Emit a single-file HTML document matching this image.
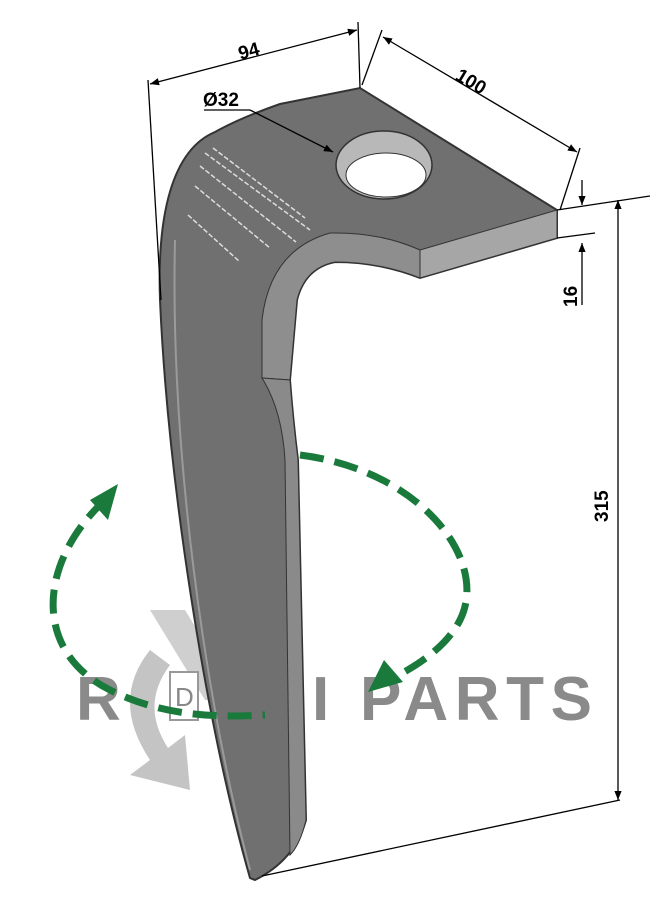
<!DOCTYPE html>
<html><head><meta charset="utf-8"><style>
html,body{margin:0;padding:0;background:#fff;}
svg{display:block;}
text{font-family:"Liberation Sans",sans-serif;}
</style></head><body>
<svg width="669" height="924" viewBox="0 0 669 924" xmlns="http://www.w3.org/2000/svg">
<defs>
<marker id="ar" viewBox="0 0 10 10" refX="10" refY="5" markerWidth="7" markerHeight="7" orient="auto-start-reverse"><path d="M0,1 L10,5 L0,9 z" fill="#000"/></marker>
</defs>
<!-- watermark -->
<path d="M150,650 Q110,700 150,760 L130,775 L190,790 L185,735 L168,748 Q140,705 170,665 Z" fill="#c4c4c4"/>
<path d="M150,610 L185,610 L240,700 L205,700 Z" fill="#cfcfcf"/>
<text x="76" y="720" font-size="62" font-weight="bold" fill="#8a8a8a">R</text>
<rect x="170" y="672" width="28" height="48" fill="#fff" stroke="#999" stroke-width="2"/>
<text x="175" y="706" font-size="26" fill="#888">D</text>
<text x="312" y="720" font-size="62" font-weight="bold" fill="#8a8a8a">I</text>
<text x="360" y="720" font-size="62" font-weight="bold" fill="#8a8a8a" textLength="232">PARTS</text>

<!-- tine body -->
<path d="M250,878 C205,720 168,480 160,300 C157,215 172,150 215,132 Q240,118 280,104 L360,88 L557,210 L557,238 L420,278 Q380,262 335,262 Q305,268 297,300 L290,380 Q293,420 298,460 L306,820 Q295,860 255,880 Z" fill="#707070" stroke="#333" stroke-width="2"/>
<path d="M420,250 L557,210 L557,238 L420,278 Z" fill="#a6a6a6" stroke="#333" stroke-width="1"/>
<path d="M420,250 L420,278 Q380,262 335,262 Q305,268 297,300 L290,380 L262,378 L262,320 Q270,250 330,233 Q380,232 420,250 Z" fill="#8e8e8e" stroke="#333" stroke-width="1"/>
<path d="M262,378 L290,380 Q293,420 298,460 L306,820 Q300,845 290,855 L285,460 Q282,410 262,378 Z" fill="#8a8a8a" stroke="#333" stroke-width="1"/>
<path d="M175,240 C170,450 205,700 250,870" fill="none" stroke="#9a9a9a" stroke-width="2"/>
<g stroke="#ddd" stroke-width="1.5" stroke-dasharray="5 2">
<line x1="205" y1="153" x2="310" y2="230"/>
<line x1="213" y1="148" x2="305" y2="218"/>
<line x1="200" y1="166" x2="296" y2="242"/>
<line x1="195" y1="186" x2="270" y2="248"/>
<line x1="188" y1="215" x2="240" y2="262"/>
</g>
<ellipse cx="384" cy="165" rx="48" ry="34" fill="#b8b8b8" stroke="#333" stroke-width="1.5"/>
<ellipse cx="386" cy="175" rx="40" ry="22" fill="#fff" stroke="#333" stroke-width="1"/>

<!-- dimensions -->
<g stroke="#000" stroke-width="1.3" fill="none">
<line x1="148" y1="80" x2="161" y2="300"/>
<line x1="358" y1="22" x2="360" y2="88"/>
<line x1="150" y1="84" x2="357" y2="30" marker-start="url(#ar)" marker-end="url(#ar)"/>
<line x1="382" y1="30" x2="362" y2="85"/>
<line x1="580" y1="148" x2="560" y2="210"/>
<line x1="383" y1="37" x2="577" y2="152" marker-start="url(#ar)" marker-end="url(#ar)"/>
<line x1="204" y1="110" x2="250" y2="110"/>
<line x1="250" y1="110" x2="333" y2="152" marker-end="url(#ar)"/>
<line x1="557" y1="210" x2="650" y2="196"/>
<line x1="557" y1="238" x2="595" y2="233"/>
<line x1="582" y1="180" x2="582" y2="205" marker-end="url(#ar)"/>
<line x1="582" y1="305" x2="582" y2="243" marker-end="url(#ar)"/>
<line x1="618" y1="200" x2="618" y2="800" marker-start="url(#ar)" marker-end="url(#ar)"/>
<line x1="262" y1="876" x2="620" y2="800"/>
</g>
<text x="238" y="57" font-size="19" font-weight="bold" transform="rotate(-15 250 50)">94</text>
<text x="455" y="90" font-size="19" font-weight="bold" transform="rotate(31 475 83)">100</text>
<text x="203" y="106" font-size="19" font-weight="bold">Ø32</text>
<text x="0" y="0" font-size="19" font-weight="bold" transform="translate(577,307) rotate(-90)">16</text>
<text x="0" y="0" font-size="19" font-weight="bold" transform="translate(608,522) rotate(-90)">315</text>

<!-- green rotation -->
<path d="M105,500 C40,560 30,650 110,690 C160,715 210,718 265,715" fill="none" stroke="#1a7a3c" stroke-width="7" stroke-dasharray="24 11"/>
<path d="M300,455 C420,470 490,560 460,620 C445,650 410,670 385,682" fill="none" stroke="#1a7a3c" stroke-width="7" stroke-dasharray="24 11"/>
<polygon points="118,484 90,500 108,520" fill="#1a7a3c"/>
<polygon points="368,692 384,660 403,682" fill="#1a7a3c"/>
</svg>
</body></html>
